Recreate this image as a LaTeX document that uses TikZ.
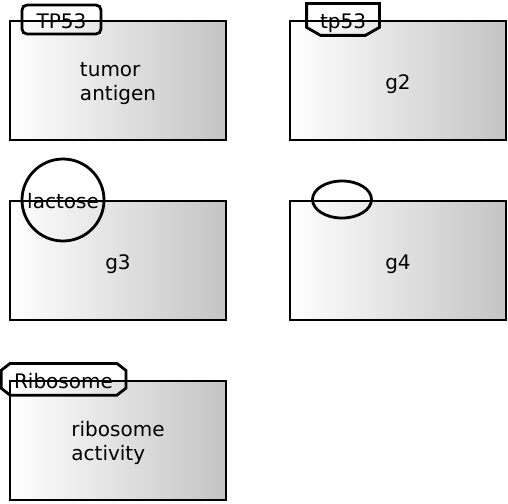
\documentclass[tikz,border=0pt]{standalone}
\usepackage{fontspec}
\setmainfont{DejaVu Sans}
\usepackage{tikz}
\usetikzlibrary{shapes.geometric}
\definecolor{boxgray}{RGB}{196, 196, 196}

\begin{document}
\begin{tikzpicture}[
  x=1pt, y=-1pt,
  font=\fontsize{20}{24}\selectfont,
  line width=2.8pt,
  every node/.style={text height=18pt, text depth=0.4pt},
  act/.style={draw, rectangle, left color=white, right color=boxgray, align=left, minimum width=216pt, minimum height=119pt},
  act2/.style={act, text height=40.8pt},
  uoi/.style={draw, rounded corners=5pt, inner sep=0pt, minimum width=79pt, minimum height=29pt},
  lbl/.style={inner sep=0pt, minimum height=29pt},
  chem/.style={draw, circle, inner sep=0pt, minimum size=82pt},
  blank/.style={draw, ellipse, inner sep=0pt, minimum width=59pt, minimum height=37pt}
]
\useasboundingbox (0,0) rectangle (508,503);
% activities
\node[act2] (tumor) at (118,80.5) {tumor\\antigen};
\node[act] (g2) at (398,80.5) {g2};
\node[act] (g3) at (118,260.5) {g3};
\node[act] (g4) at (398,260.5) {g4};
\node[act2] (ribo) at (118,440.5) {ribosome\\activity};
% units of information
\node[uoi] (tp) at (61.5,19.5) {TP53};
\node[lbl, minimum width=70pt] (tpna) at (343,19.5) {tp53};
\draw (tpna.north west) -- (tpna.north east) -- ([yshift=8pt]tpna.south east)
  -- ([xshift=-14pt]tpna.south east) -- ([xshift=14pt]tpna.south west)
  -- ([yshift=8pt]tpna.south west) -- cycle;
\node[chem] (lac) at (63,200) {lactose};
\node[blank] (g4u) at (342,199.5) {};
\node[lbl, minimum width=122pt] (ribc) at (63.5,379.3) {Ribosome};
\draw ([xshift=9pt]ribc.north west) -- ([xshift=-9pt]ribc.north east)
  -- ([yshift=-7pt]ribc.north east) -- ([yshift=7pt]ribc.south east)
  -- ([xshift=-9pt]ribc.south east) -- ([xshift=9pt]ribc.south west)
  -- ([yshift=7pt]ribc.south west) -- ([yshift=-7pt]ribc.north west) -- cycle;
\end{tikzpicture}
\end{document}
